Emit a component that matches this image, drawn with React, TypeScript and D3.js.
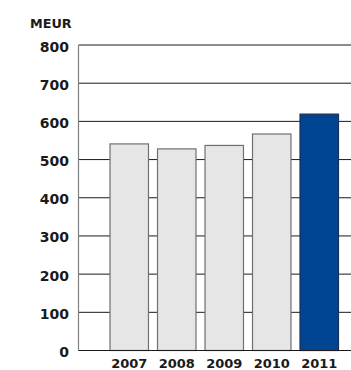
import React from "react";
import * as d3 from "d3";

const years = ["2007", "2008", "2009", "2010", "2011"];
const revenue = [541, 528, 537, 567, 619];
const yTicks = [0, 100, 200, 300, 400, 500, 600, 700, 800];
const unitLabel = "MEUR";

const W = 351;
const H = 370;
const left = 78.5;
const top = 45;
const bottom = 350.5;
const font = "'DejaVu Sans', Verdana, sans-serif";

export default function App() {
  const y = d3.scaleLinear().domain([0, 800]).range([bottom, top]);
  const x = d3
    .scaleBand<string>()
    .domain(years)
    .range([105.5, 343])
    .paddingInner(0.19)
    .paddingOuter(0.095);

  return (
    <svg
      width={W}
      height={H}
      style={{ position: "absolute", left: 0, top: 0, background: "#fff" }}
    >
      <text
        x={30}
        y={28}
        fontFamily={font}
        fontWeight="bold"
        fontSize={12.8}
        fill="#1a1a1a"
      >
        {unitLabel}
      </text>
      {yTicks.map((t) => (
        <g key={t}>
          {t > 0 && (
            <line
              x1={left}
              x2={W}
              y1={y(t)}
              y2={y(t)}
              stroke="#1a1a1a"
              strokeWidth={1}
            />
          )}
          <text
            x={69}
            y={y(t) + 1.5}
            textAnchor="end"
            dominantBaseline="central"
            fontFamily={font}
            fontWeight="bold"
            fontSize={14}
            fill="#1a1a1a"
          >
            {t}
          </text>
        </g>
      ))}
      <line x1={left} x2={left} y1={top} y2={bottom} stroke="#808080" strokeWidth={1.2} />
      {years.map((yr, i) => (
        <rect
          key={yr}
          x={x(yr)}
          y={y(revenue[i])}
          width={x.bandwidth()}
          height={bottom - y(revenue[i])}
          fill={yr === "2011" ? "#004494" : "#e6e6e6"}
          stroke={yr === "2011" ? "#1c2f55" : "#707070"}
          strokeWidth={1.2}
        />
      ))}
      <line x1={left} x2={W} y1={bottom} y2={bottom} stroke="#1a1a1a" strokeWidth={1.2} />
      {years.map((yr) => (
        <text
          key={yr}
          x={(x(yr) as number) + x.bandwidth() / 2}
          y={368}
          textAnchor="middle"
          fontFamily={font}
          fontWeight="bold"
          fontSize={13}
          fill="#1a1a1a"
        >
          {yr}
        </text>
      ))}
    </svg>
  );
}
